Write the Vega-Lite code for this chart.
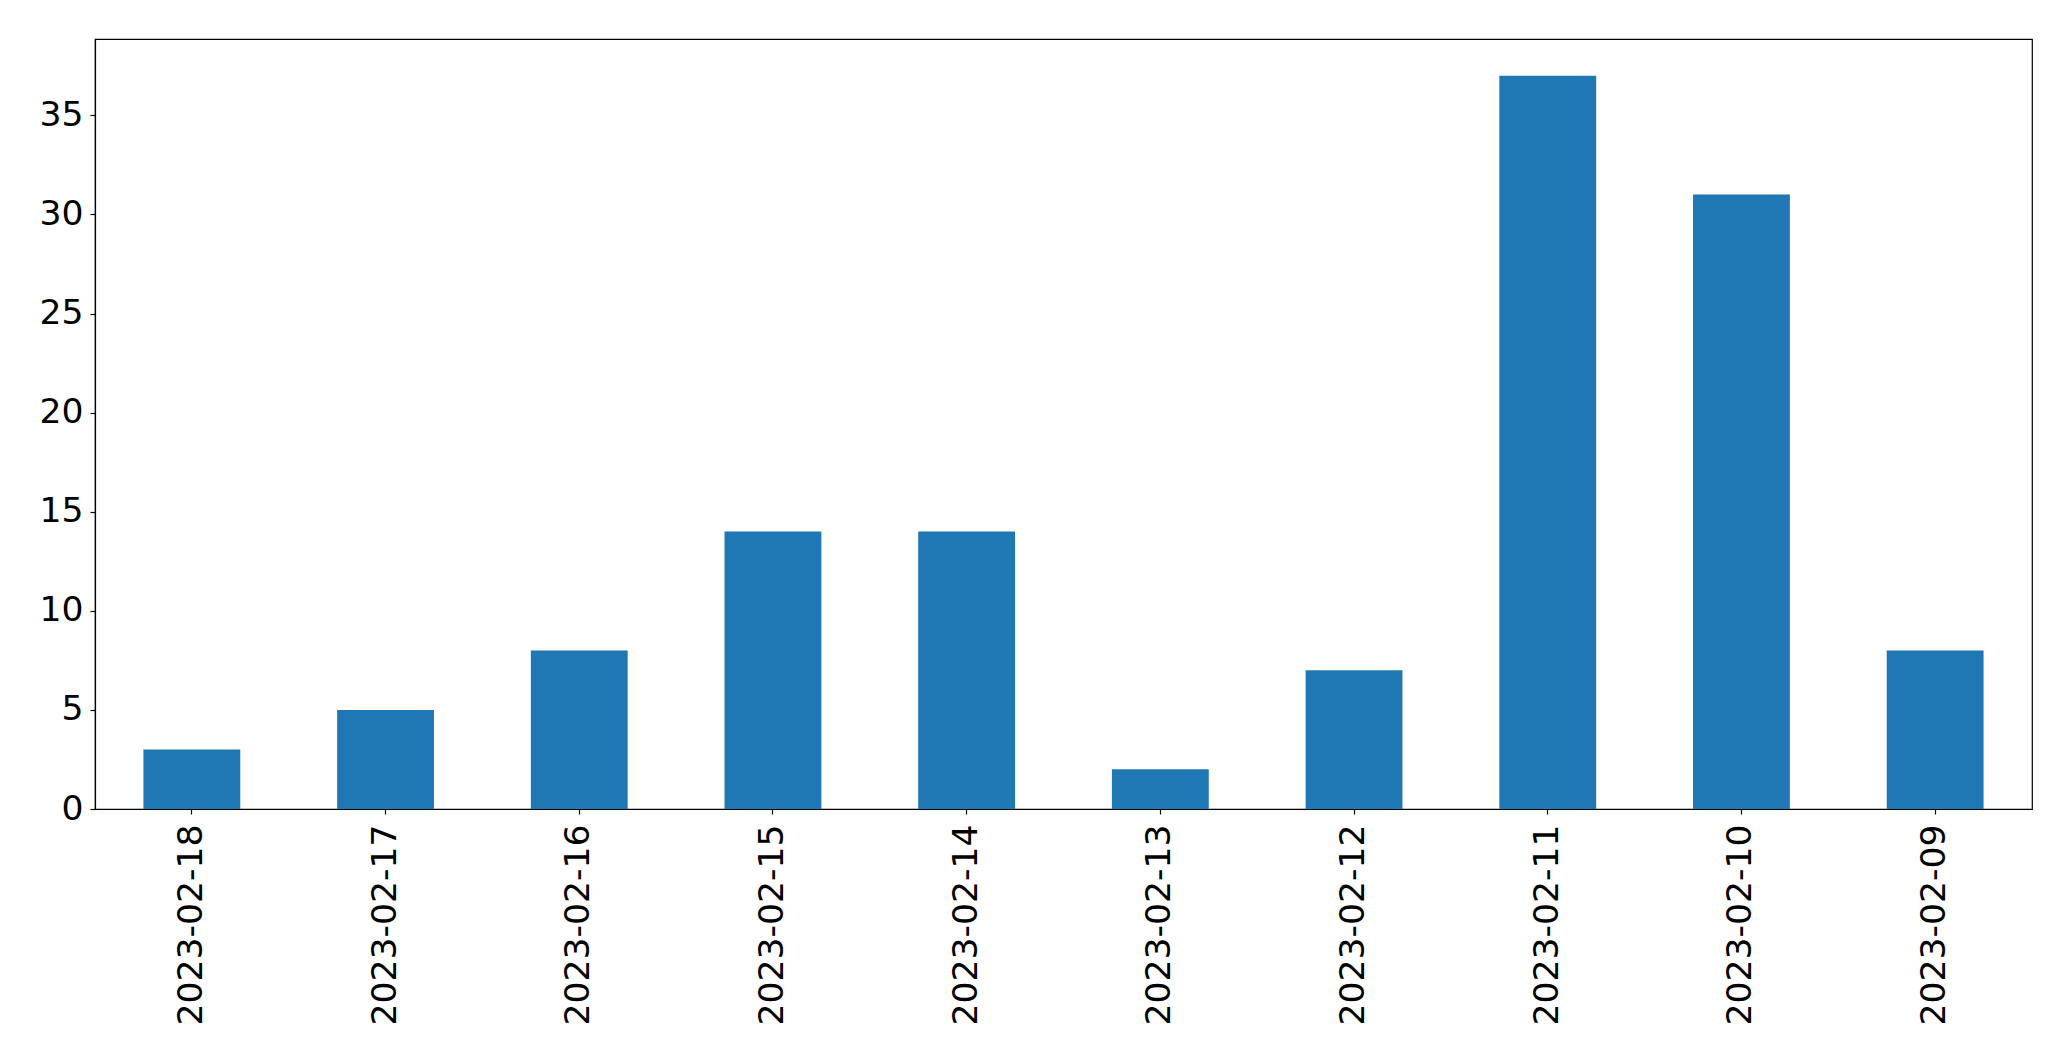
{
  "$schema": "https://vega.github.io/schema/vega-lite/v6.json",
  "autosize": "none",
  "width": 1937,
  "height": 770,
  "padding": {"left": 95, "top": 39, "right": 39, "bottom": 252},
  "background": "white",
  "config": {
    "view": {"stroke": "black", "strokeWidth": 1.2},
    "axis": {
      "labelFont": "DejaVu Sans",
      "labelFontSize": 34.6,
      "labelColor": "black",
      "labelLimit": 0,
      "domainColor": "black",
      "domainWidth": 1.2,
      "tickColor": "black",
      "tickWidth": 1.2,
      "tickSize": 5,
      "grid": false,
      "title": null
    }
  },
  "data": {
    "values": [
      {"date": "2023-02-18", "count": 3},
      {"date": "2023-02-17", "count": 5},
      {"date": "2023-02-16", "count": 8},
      {"date": "2023-02-15", "count": 14},
      {"date": "2023-02-14", "count": 14},
      {"date": "2023-02-13", "count": 2},
      {"date": "2023-02-12", "count": 7},
      {"date": "2023-02-11", "count": 37},
      {"date": "2023-02-10", "count": 31},
      {"date": "2023-02-09", "count": 8}
    ]
  },
  "mark": {"type": "bar", "color": "#1f77b4"},
  "encoding": {
    "x": {
      "field": "date",
      "type": "nominal",
      "sort": null,
      "scale": {"paddingInner": 0.5, "paddingOuter": 0.25},
      "axis": {"labelAngle": 270, "labelAlign": "right", "labelBaseline": "middle", "labelPadding": 10}
    },
    "y": {
      "field": "count",
      "type": "quantitative",
      "scale": {"domain": [0, 38.85], "nice": false, "zero": true},
      "axis": {"values": [0, 5, 10, 15, 20, 25, 30, 35], "labelPadding": 7}
    }
  }
}
